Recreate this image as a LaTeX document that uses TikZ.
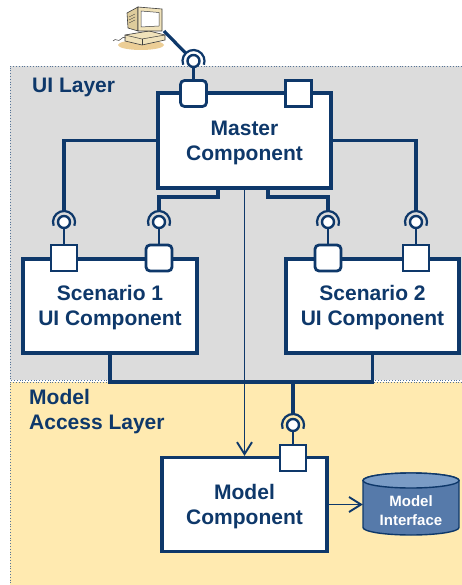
\documentclass[tikz,border=0pt]{standalone}
\usepackage{fontspec}
\setmainfont{Liberation Sans}
\usetikzlibrary{arrows.meta}

\definecolor{navy}{RGB}{14,56,106}
\definecolor{uigray}{RGB}{220,220,220}
\definecolor{mdlyellow}{RGB}{255,234,176}
\definecolor{dbbody}{RGB}{86,122,170}
\definecolor{dbtop}{RGB}{122,156,198}
\definecolor{pcbeige}{RGB}{240,226,186}
\definecolor{pcside}{RGB}{222,204,156}
\definecolor{pcshadow}{RGB}{236,206,150}
\definecolor{pcline}{RGB}{60,60,60}

% two-line component caption; extra room on top pushes it down inside its box
\newcommand{\compcaption}[3]{\raisebox{0pt}[\dimexpr\height+#1\relax][\depth]{\begin{tabular}{@{}c@{}}#2\\#3\end{tabular}}}

\tikzset{
  comp/.style={draw=navy, line width=3.2pt, fill=white, text=navy,
    inner sep=0pt, font=\bfseries\fontsize{21}{25}\selectfont},
  portsq/.style={draw=navy, line width=2.8pt, fill=white, minimum size=26pt, inner sep=0pt},
  portrd/.style={portsq, rounded corners=4pt},
  conn/.style={draw=navy, line width=3.2pt},
  thinarrow/.style={draw=navy, line width=1.7pt, -{Straight Barb[length=12pt,width=15pt,line width=1.9pt]}},
  lolly/.style={circle, draw=navy, line width=2.4pt, fill=white, minimum size=12pt, inner sep=0pt},
  socket/.pic={\draw[navy, line width=2.2pt] (200:11pt) arc[start angle=200, end angle=-20, radius=11pt];},
  layerlabel/.style={text=navy, anchor=base west, inner sep=0pt, font=\bfseries\fontsize{21}{25}\selectfont},
  layerborder/.style={draw=navy!70, line width=0.8pt, dotted},
}

\begin{document}
\begin{tikzpicture}[x=1pt, y=-1pt]
\useasboundingbox (0,0) rectangle (462,585);

% layers
\fill[uigray] (10,66) rectangle (462,380);
\draw[layerborder] (462,66) -- (10,66) -- (10,380) -- (462,380);
\fill[mdlyellow] (10,382) rectangle (462,585);
\draw[layerborder] (462,382) -- (10,382) -- (10,585);

\node[layerlabel] (uilabel) at (32,93) {UI Layer};
\node[layerlabel] (mallabel1) at (29,404) {Model};
\node[layerlabel] (mallabel2) at (29,429) {Access Layer};

% components
\node[comp, minimum width=173pt, minimum height=95pt] (master) at (244.5,140.5) {\compcaption{6pt}{Master}{Component}};
\node[comp, minimum width=174pt, minimum height=94pt] (scen1) at (110,306) {\compcaption{3pt}{Scenario 1}{UI Component}};
\node[comp, minimum width=173pt, minimum height=94pt] (scen2) at (372.5,306) {\compcaption{3pt}{Scenario 2}{UI Component}};
\node[comp, minimum width=165pt, minimum height=94pt] (model) at (244.5,504.5) {\compcaption{4pt}{Model}{Component}};

% ports
\node[portrd] (mp1) at (193.5,93.5) {};
\node[portsq] (mp2) at (298.5,93.5) {};
\node[portsq] (s1p1) at (64,258) {};
\node[portrd] (s1p2) at (159,258) {};
\node[portrd] (s2p1) at (328,258) {};
\node[portsq] (s2p2) at (416,258) {};
\node[portsq] (mdp) at (293,458) {};

% provided interfaces (ball) and required sockets
\node[lolly] (mball) at (193.5,61) {};
\node[lolly] (s1b1) at (64,222) {};
\node[lolly] (s1b2) at (159,222) {};
\node[lolly] (s2b1) at (328,222) {};
\node[lolly] (s2b2) at (416,222) {};
\node[lolly] (mdb) at (293,425) {};

\pic at (193.5,61) {socket};
\pic at (64,222) {socket};
\pic at (159,222) {socket};
\pic at (328,222) {socket};
\pic at (416,222) {socket};
\pic at (293,425) {socket};

\coordinate (msock) at (185.7,53.2);
\coordinate (s1sock1) at (64,211);
\coordinate (s1sock2) at (159,211);
\coordinate (s2sock1) at (328,211);
\coordinate (s2sock2) at (416,211);
\coordinate (mdsock) at (293,414);
\coordinate (join) at (293,382);

% stems
\foreach \b/\p in {mball/mp1, s1b1/s1p1, s1b2/s1p2, s2b1/s2p1, s2b2/s2p2, mdb/mdp}
  \draw[navy, line width=2.6pt] (\b.south) -- (\p.north);

% assembly connectors
\draw[conn] (master.west) -| (s1sock1);
\draw[conn] (master.east) -| (s2sock2);
\draw[conn] ([xshift=-26.5pt]master.south) |- ([yshift=14pt]s1sock2) -- (s1sock2);
\draw[conn] ([xshift=23.5pt]master.south) |- ([yshift=14pt]s2sock1) -- (s2sock1);
\draw[conn] (scen1.south) |- (join) -| (scen2.south);
\draw[conn] (join) -- (mdsock);

% dependency arrows
\draw[thinarrow] (master.south) -- (model.north);

% database
\node[minimum width=96pt, minimum height=62pt, inner sep=0pt] (db) at (411,504.5) {};
\path[fill=dbbody, draw=navy, line width=1.4pt] (363,480.5) -- (363,527.5)
  arc[start angle=180, end angle=360, x radius=48pt, y radius=7.5pt] -- (459,480.5)
  arc[start angle=0, end angle=180, x radius=48pt, y radius=7.5pt] -- cycle;
\draw[fill=dbtop, draw=navy, line width=1.4pt] (411,480.5) ellipse[x radius=48pt, y radius=7.5pt];
\node[text=white, align=center, inner sep=0pt, font=\bfseries\fontsize{15}{19}\selectfont] (dbtext) at (411,511) {Model\\Interface};

\draw[thinarrow] (model.east) -- (model.east -| db.west);

% workstation
\fill[pcshadow] (141,45) ellipse[x radius=23pt, y radius=5pt];
\draw[pcline, line width=0.6pt, fill=pcbeige] (125,35) -- (149,31) -- (165,35) -- (165,40) -- (142,45) -- (125,41) -- cycle;
\draw[pcline, line width=0.5pt] (125,35) -- (142,39) -- (165,35);
\draw[pcline, line width=0.5pt] (142,39) -- (142,45);
\draw[pcline, line width=0.6pt, fill=pcside] (127,13) -- (138,7) -- (138,31) -- (128,28) -- cycle;
\draw[pcline, line width=0.6pt, fill=pcbeige] (138,7) -- (162,9) -- (162,31) -- (138,31) -- cycle;
\draw[pcline, line width=0.5pt, fill=white] (141,11) -- (159,12.5) -- (159,26) -- (141,27) -- cycle;
\draw[pcline, line width=0.4pt] (129,17) -- (135,14) (129,20) -- (135,17) (129,23) -- (135,20);
\draw[pcline, line width=0.5pt] (113,41) .. controls (116,37) and (118,43) .. (121,39) .. controls (123,37) .. (126,38);
\coordinate (pcport) at (164,31);
\draw[conn] (pcport) -- (msock);
\end{tikzpicture}
\end{document}
